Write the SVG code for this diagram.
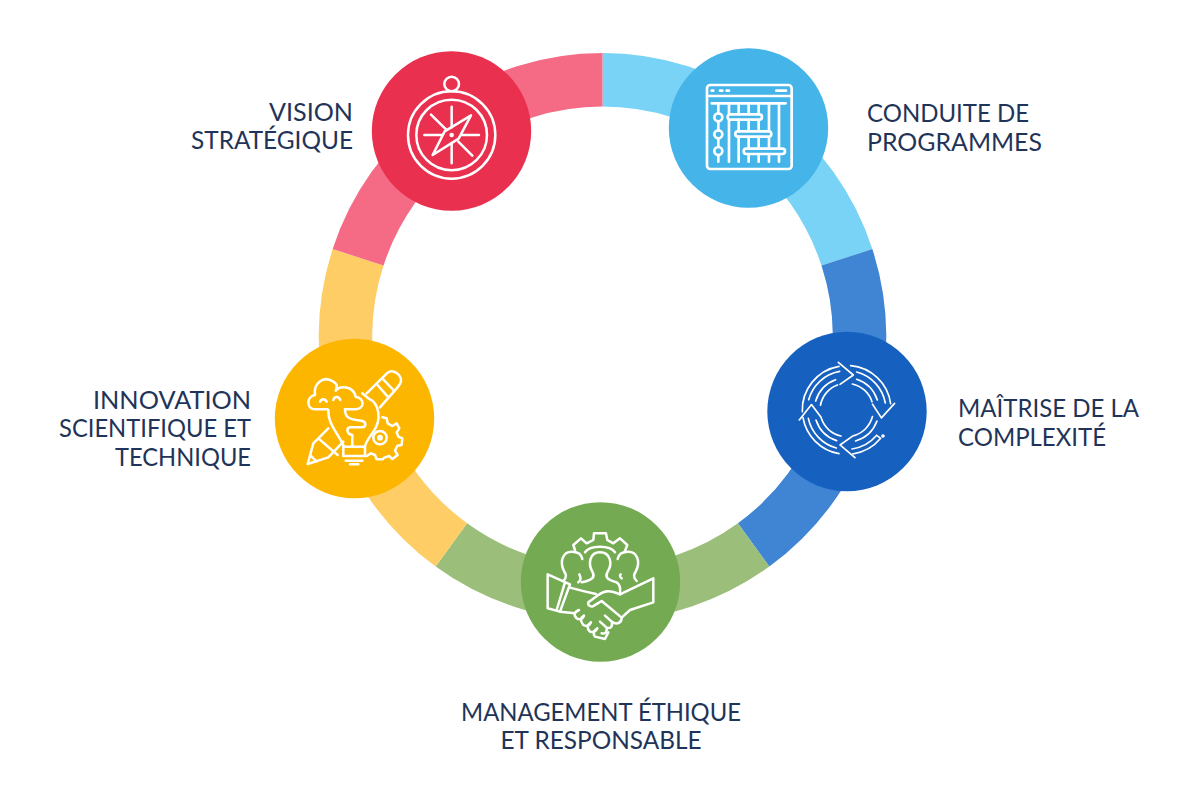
<svg xmlns="http://www.w3.org/2000/svg" width="1200" height="799" viewBox="0 0 1200 799">
<style>
.seg{fill:none;stroke-width:53.5}
.i{fill:none;stroke:#fff;stroke-width:7.5;stroke-linecap:round;stroke-linejoin:round}
.t{font-family:"Lato","Liberation Sans",sans-serif;font-weight:400;font-size:25px;fill:#1f3458}
</style>
<defs>
<g id="q">
<path d="M235 112L280 150L240 178"/>
<path d="M290 163A97 97 0 0 1 352 225M277 177A80 80 0 0 1 336 230"/>
</g>
</defs>
<rect width="1200" height="799" fill="#fff"/>
<g id="connectors">
<path class="seg" stroke="#78d3f6" d="M602.5 79.7A257 257 0 0 1 846.9 257.3"/>
<path class="seg" stroke="#3f85d3" d="M846.9 257.3A257 257 0 0 1 753.6 544.9"/>
<path class="seg" stroke="#9bbf7b" d="M753.6 544.9A257 257 0 0 1 451.4 544.9"/>
<path class="seg" stroke="#fecd66" d="M451.4 544.9A257 257 0 0 1 358.1 257.3"/>
<path class="seg" stroke="#f56a85" d="M358.1 257.3A257 257 0 0 1 602.5 79.7"/>
</g>
<g id="vision">
<circle cx="451.5" cy="131" r="79.7" fill="#e9304f"/>
<g class="i" transform="translate(360 40) scale(.3333)">
<circle cx="275" cy="132" r="22"/><circle cx="275" cy="285" r="131"/><circle cx="275" cy="285" r="106"/>
<path d="M275 200V262M275 310V370M193 285H245M305 285H357M213 224L258 268M295 305L337 347"/>
<path d="M333 226L296 296L218 345L254 274Z"/><circle cx="275" cy="285" r="3"/>
</g>
</g>
<g id="conduite">
<circle cx="748.5" cy="128" r="79.7" fill="#45b4e9"/>
<g class="i" style="stroke-width:8" transform="translate(660 40) scale(.3333)">
<rect x="141" y="135" width="254" height="252" rx="10"/>
<path d="M141 168H395M155 190H377M155 152H160M180 152H187M200 152H207M349 152H378"/>
<path d="M175 192V220M175 244V271M175 295V321M175 345V365M207 192V220M207 240V365M236 192V222M236 240V272M236 292V365M266 192V222M266 240V272M266 292V322M296 192V222M296 240V272M296 292V322M327 192V272M327 292V322M357 192V322M266 345V365M296 345V365M327 345V365M357 345V365"/>
<circle cx="175" cy="232" r="12"/><circle cx="175" cy="283" r="12"/><circle cx="175" cy="333" r="12"/>
<rect x="203" y="223" width="103" height="16" rx="8"/><rect x="226" y="274" width="108" height="16" rx="8"/><rect x="251" y="326" width="124" height="16" rx="8"/>
</g>
</g>
<g id="maitrise">
<circle cx="847" cy="411.5" r="79.7" fill="#1660bf"/>
<g class="i" style="stroke-width:5" transform="translate(760 325) scale(.3333)">
<use href="#q"/>
<use href="#q" transform="rotate(92 260 255)"/>
<use href="#q" transform="rotate(180 260 255)"/>
<use href="#q" transform="rotate(268 260 255)"/>
<path d="M127 260A133 133 0 0 1 237 124M146 224A118 118 0 0 1 239 139"/>
<path d="M272 122A133 133 0 0 1 392 236M290 141A118 118 0 0 1 376 234"/>
<path d="M362 340A133 133 0 0 1 278 387M350 331A118 118 0 0 1 276 372M350 331L362 340"/>
<path d="M237 386A133 133 0 0 1 129 278M229 369A118 118 0 0 1 145 280"/>
<circle cx="369" cy="333" r="3"/>
</g>
</g>
<g id="management">
<circle cx="600.5" cy="582" r="79.7" fill="#74ab52"/>
<g class="i" transform="translate(510 495) scale(.3333)">
<path d="M195 165L190 150L213 130L230 145L250 135L252 115H288L292 135L310 145L330 130L352 150L345 168"/>
<path d="M225 172C240 150 300 150 315 172"/>
<path d="M215 262C250 255 255 245 248 232C232 205 240 172 270 172C300 172 310 205 292 232C285 245 290 255 320 262C330 268 332 280 330 295"/>
<path d="M160 258C172 245 168 238 162 228C148 200 158 170 185 170C205 170 215 180 217 192M205 262C215 255 212 248 208 238"/>
<path d="M380 258C368 245 372 238 378 228C392 200 382 170 355 170C335 170 325 180 323 192M335 250C328 245 330 240 332 238"/>
<path d="M113 238L180 268L150 350L113 340ZM165 262L140 345"/>
<path d="M330 298L430 250V322L360 345L335 368"/>
<path d="M180 278C205 285 225 290 258 297"/>
<path d="M330 298C300 285 285 285 265 300L235 322C232 332 245 338 252 332L275 318L335 368C335 385 320 390 305 380L285 362M305 380C310 395 300 402 290 398L270 380M290 398C292 412 285 418 275 415"/>
<path d="M150 350L195 355"/>
<path d="M207 345Q185 355 200 370Q215 378 222 362M222 362Q205 372 220 390Q235 398 243 382M243 382Q225 395 240 410Q255 415 262 400M262 400Q245 412 255 425L285 432L295 412"/>
</g>
</g>
<g id="innovation">
<circle cx="354.5" cy="418.5" r="79.7" fill="#fdb600"/>
<g class="i" transform="translate(265 330) scale(.3333)">
<path d="M187 238H150C125 238 122 200 150 195C145 160 175 135 205 155C215 160 218 170 212 182C225 165 265 168 272 200C300 205 300 238 270 238H240"/>
<path d="M165 215C170 205 180 205 185 215M205 210C208 198 222 198 226 210"/>
<path d="M240 238C240 262 250 268 290 272C305 275 305 292 290 292H255C243 295 245 312 262 315V345"/>
<path d="M190 240C188 280 215 305 235 345V378H300V350C302 335 315 320 325 305C350 270 345 220 310 205L292 190"/>
<path d="M235 350H300M242 392H292M255 403H280"/>
<path d="M190 295L145 340L128 402L190 382L235 335M160 325L218 375M135 375L155 395"/>
<path d="M305 190L368 128C385 115 410 135 408 155C405 165 400 170 345 232M335 162L368 200M352 145L388 183"/>
<path d="M352 262L365 265L368 280L382 288L395 280L403 295L395 307L400 320L412 325L410 345L397 347L390 362L398 375L382 387L372 378L358 383L353 388L335 388L330 375L318 370L305 378"/>
<circle cx="345" cy="323" r="20"/><circle cx="345" cy="323" r="5"/>
</g>
</g>
<g id="labels">
<text class="t" x="353" y="121" text-anchor="end" textLength="84" lengthAdjust="spacingAndGlyphs">VISION</text>
<text class="t" x="353" y="149" text-anchor="end" textLength="162" lengthAdjust="spacingAndGlyphs">STRATÉGIQUE</text>
<text class="t" x="867" y="122" textLength="162" lengthAdjust="spacingAndGlyphs">CONDUITE DE</text>
<text class="t" x="867" y="151" textLength="175" lengthAdjust="spacingAndGlyphs">PROGRAMMES</text>
<text class="t" x="958" y="417" textLength="181" lengthAdjust="spacingAndGlyphs">MAÎTRISE DE LA</text>
<text class="t" x="958" y="446" textLength="148" lengthAdjust="spacingAndGlyphs">COMPLEXITÉ</text>
<text class="t" x="251" y="409" text-anchor="end" textLength="158" lengthAdjust="spacingAndGlyphs">INNOVATION</text>
<text class="t" x="251" y="437" text-anchor="end" textLength="192" lengthAdjust="spacingAndGlyphs">SCIENTIFIQUE ET</text>
<text class="t" x="251" y="466" text-anchor="end" textLength="136" lengthAdjust="spacingAndGlyphs">TECHNIQUE</text>
<text class="t" x="601" y="721" text-anchor="middle" textLength="280" lengthAdjust="spacingAndGlyphs">MANAGEMENT ÉTHIQUE</text>
<text class="t" x="601" y="749" text-anchor="middle" textLength="201" lengthAdjust="spacingAndGlyphs">ET RESPONSABLE</text>
</g>
</svg>
